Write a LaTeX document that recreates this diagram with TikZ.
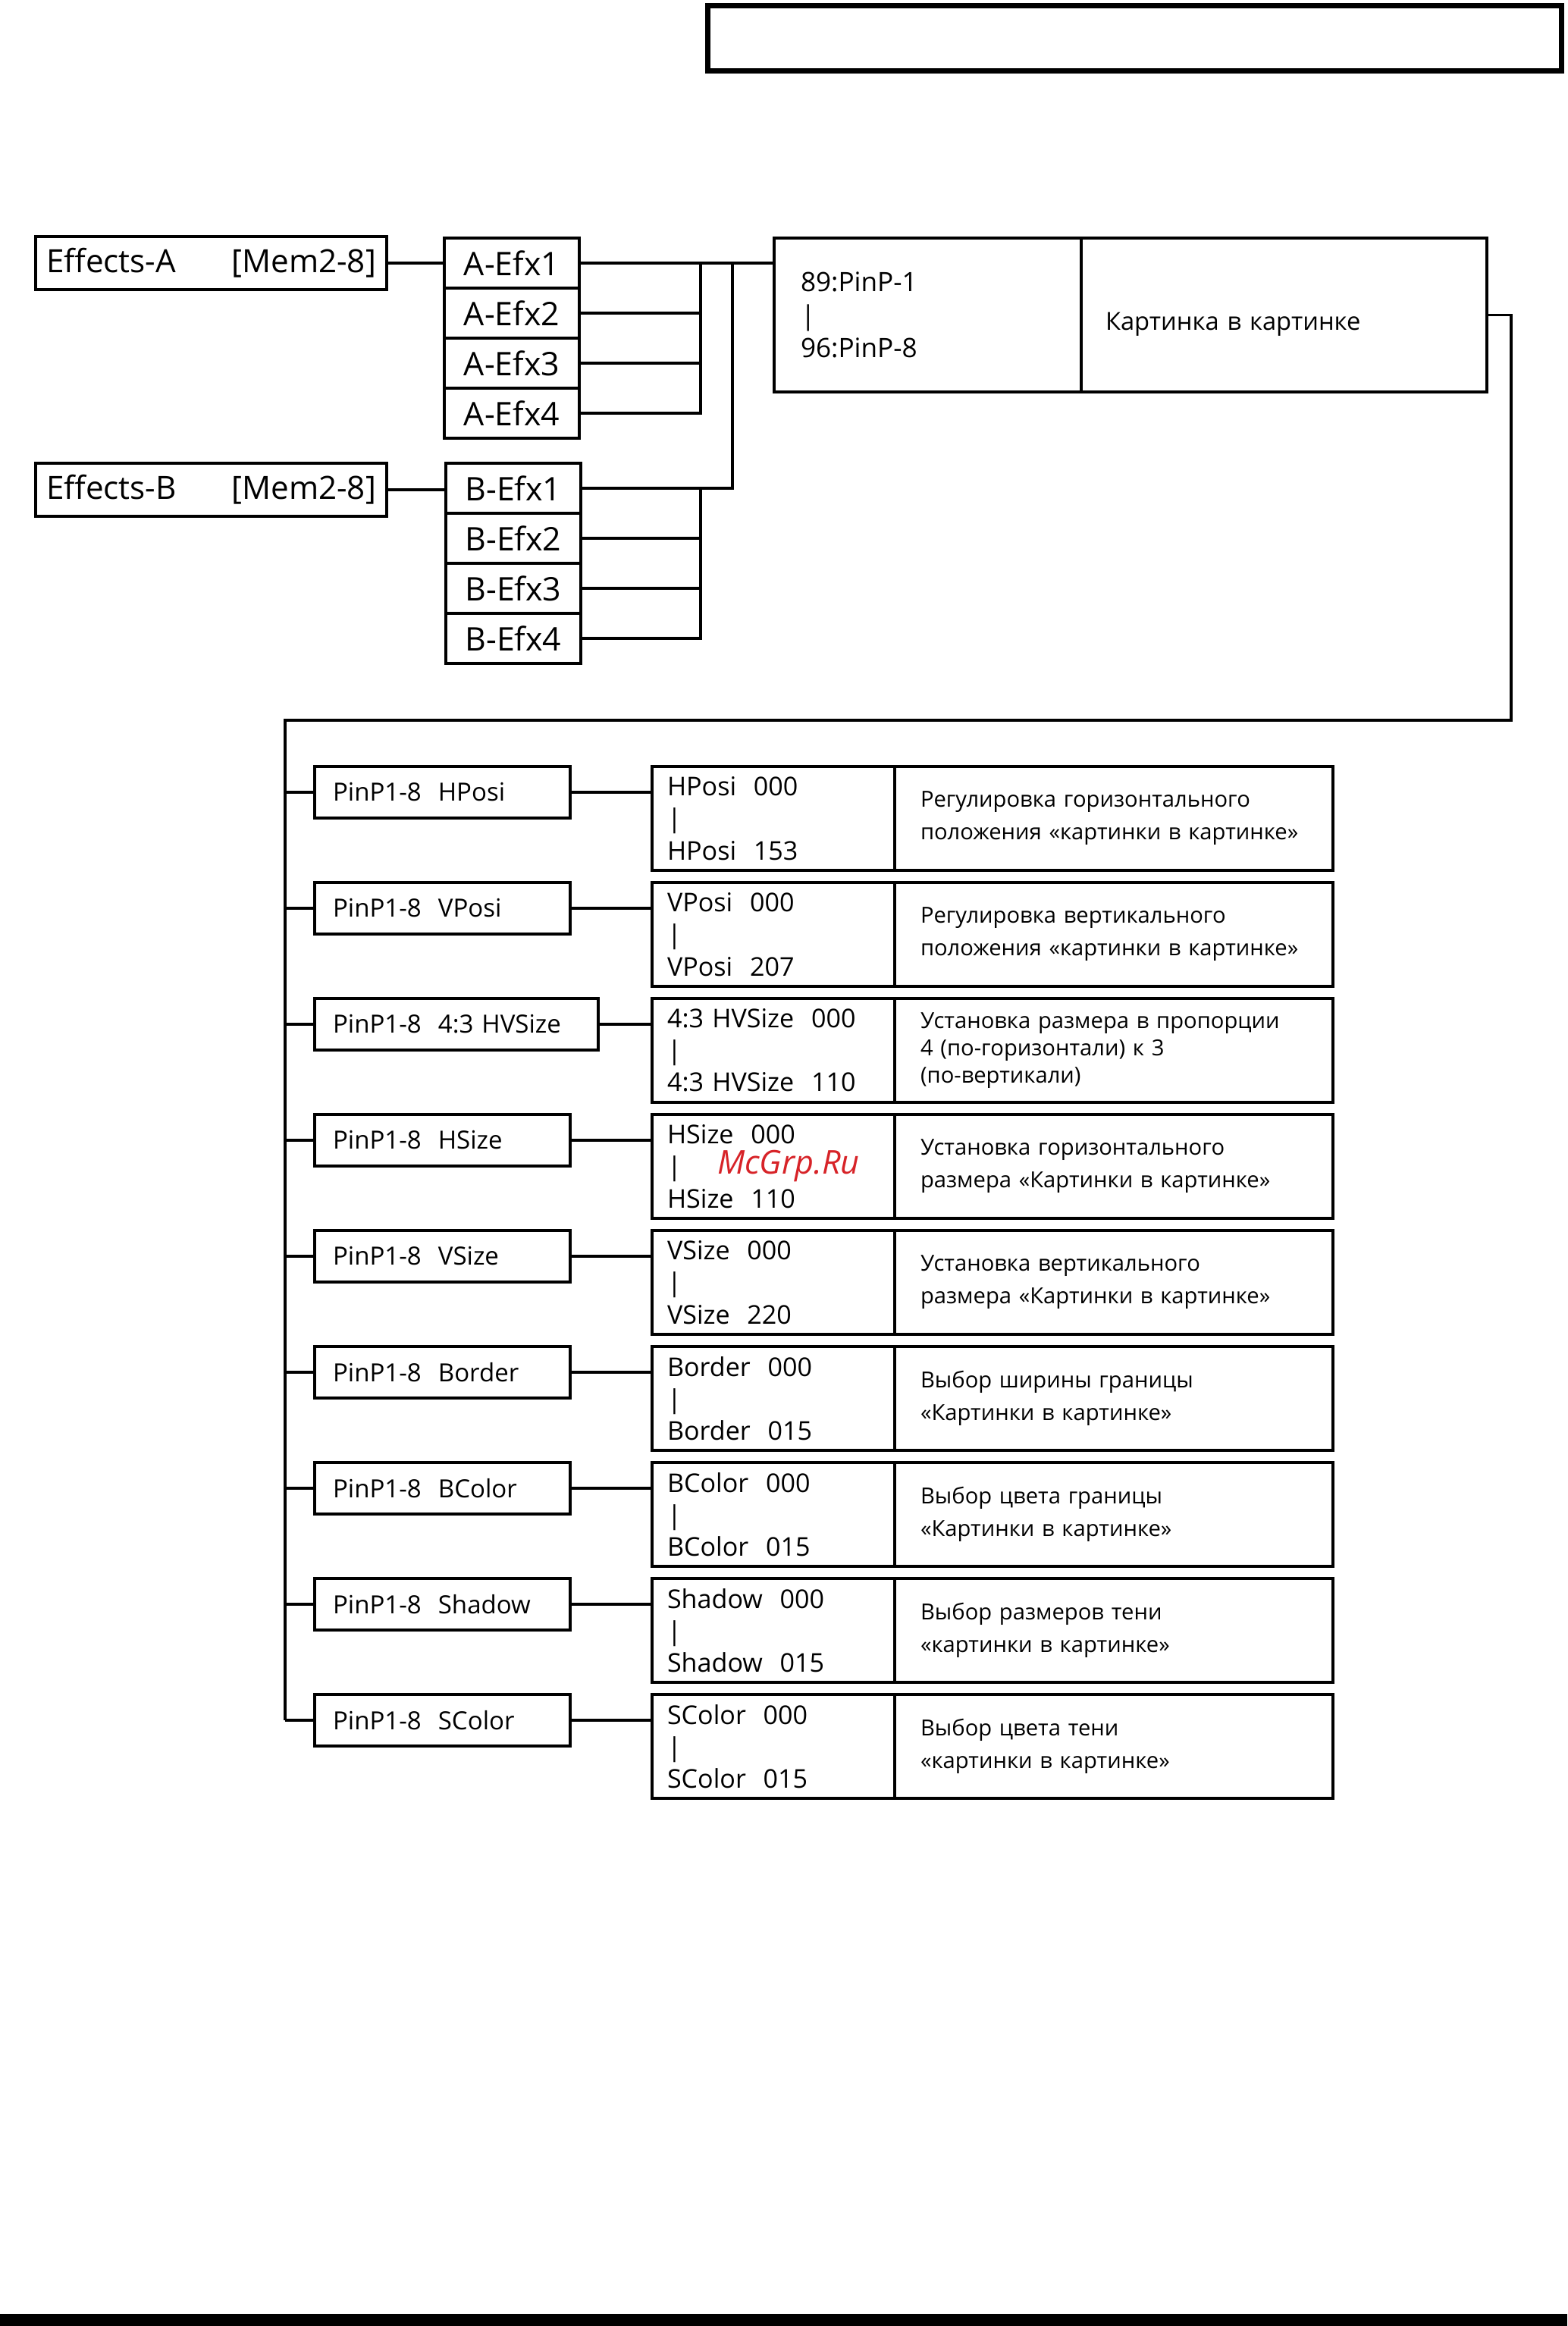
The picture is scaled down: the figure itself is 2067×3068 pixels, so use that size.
\documentclass[tikz,border=0pt]{standalone}
\usepackage{fontspec}
\setmainfont{Open Sans}
\usetikzlibrary{positioning}
\definecolor{wmred}{RGB}{215,35,40}

\begin{document}
\begin{tikzpicture}[
    x=0.1mm, y=-0.1mm,
    every node/.style={outer sep=0pt},
    link/.style={line width=1.1pt},
    headbox/.style={rectangle, draw, line width=2pt, minimum width=112.6mm, minimum height=8.6mm, inner sep=0pt},
    fxgroup/.style={rectangle, draw, line width=1.1pt, minimum width=46.3mm, minimum height=7mm, inner xsep=1.4mm, text width=43.5mm, align=left, font=\fontsize{12}{14}\selectfont},
    fxslot/.style={rectangle, draw, line width=1.1pt, minimum width=17.8mm, minimum height=6.6mm, inner sep=0pt, font=\fontsize{12.2}{14}\selectfont},
    pinval/.style={rectangle, draw, line width=1.1pt, minimum width=40.5mm, minimum height=20.3mm, inner xsep=3.5mm, text width=33.5mm, align=left, font=\fontsize{10}{12.4}\selectfont},
    pininfo/.style={rectangle, draw, line width=1.1pt, minimum width=53.5mm, minimum height=20.3mm, inner xsep=3.2mm, text width=47.1mm, align=left, font=\fontsize{9.3}{12}\selectfont},
    parambox/.style={rectangle, draw, line width=1.1pt, minimum width=33.7mm, minimum height=6.8mm, inner xsep=2.4mm, text width=28.9mm, align=left, font=\fontsize{9.4}{11}\selectfont},
    valbox/.style={rectangle, draw, line width=1.2pt, minimum width=32mm, minimum height=13.7mm, inner xsep=2mm, text width=28mm, align=left, font=\fontsize{9.7}{12}\selectfont},
    infobox/.style={rectangle, draw, line width=1.2pt, minimum width=57.8mm, minimum height=13.7mm, inner xsep=3.4mm, text width=51mm, align=left, font=\fontsize{8.3}{12.2}\selectfont}
]
\useasboundingbox (0,0) rectangle (2067,3068);

% Header frame and page bar
\node[headbox, anchor=north west] (title) at (933.5,7.5) {};
\fill (0,3052) rectangle (2067,3068);

% Effects groups
\node[fxgroup, anchor=north west] (fxA) at (47,312) {Effects-A\hfill[Mem2-8]};
\node[fxgroup, anchor=north west] (fxB) at (47,611) {Effects-B\hfill[Mem2-8]};

\node[fxslot, anchor=north west] (efxA1) at (586,314) {A-Efx1};
\node[fxslot, below=0pt of efxA1] (efxA2) {A-Efx2};
\node[fxslot, below=0pt of efxA2] (efxA3) {A-Efx3};
\node[fxslot, below=0pt of efxA3] (efxA4) {A-Efx4};

\node[fxslot, anchor=north west] (efxB1) at (588,611) {B-Efx1};
\node[fxslot, below=0pt of efxB1] (efxB2) {B-Efx2};
\node[fxslot, below=0pt of efxB2] (efxB3) {B-Efx3};
\node[fxslot, below=0pt of efxB3] (efxB4) {B-Efx4};

% PinP preset
\node[pinval, anchor=north west] (pinval) at (1021,314) {89:PinP-1\\|\\96:PinP-8};
\node[pininfo, right=0pt of pinval, text height=4.4mm, text depth=0.5mm] (pininfo) {Картинка в картинке};

% Bus points
\coordinate (busA) at (924,0);
\coordinate (busAB) at (966,0);
\coordinate (bus) at (376,950);
\coordinate (turn) at (1993,950);

% Parameters
\node[parambox, anchor=north west] (hposi) at (415,1011) {PinP1-8~~HPosi};
\node[valbox, anchor=north west] (hposiR) at (860,1011) {HPosi~~000\\|\\HPosi~~153};
\node[infobox, right=0pt of hposiR] (hposiI) {Регулировка горизонтального\\положения «картинки в картинке»};

\node[parambox, anchor=north west] (vposi) at (415,1164) {PinP1-8~~VPosi};
\node[valbox, anchor=north west] (vposiR) at (860,1164) {VPosi~~000\\|\\VPosi~~207};
\node[infobox, right=0pt of vposiR] (vposiI) {Регулировка вертикального\\положения «картинки в картинке»};

\node[parambox, anchor=north west, minimum width=37.4mm, text width=32.6mm] (hvsize) at (415,1317) {PinP1-8~~4:3 HVSize};
\node[valbox, anchor=north west] (hvsizeR) at (860,1317) {4:3 HVSize~~000\\|\\4:3 HVSize~~110};
\node[infobox, right=0pt of hvsizeR, font=\fontsize{8.3}{10.3}\selectfont] (hvsizeI) {Установка размера в пропорции\\4 (по-горизонтали) к 3\\(по-вертикали)};

\node[parambox, anchor=north west] (hsize) at (415,1470) {PinP1-8~~HSize};
\node[valbox, anchor=north west] (hsizeR) at (860,1470) {HSize~~000\\|\\HSize~~110};
\node[infobox, right=0pt of hsizeR] (hsizeI) {Установка горизонтального\\размера «Картинки в картинке»};

\node[parambox, anchor=north west] (vsize) at (415,1623) {PinP1-8~~VSize};
\node[valbox, anchor=north west] (vsizeR) at (860,1623) {VSize~~000\\|\\VSize~~220};
\node[infobox, right=0pt of vsizeR] (vsizeI) {Установка вертикального\\размера «Картинки в картинке»};

\node[parambox, anchor=north west] (border) at (415,1776) {PinP1-8~~Border};
\node[valbox, anchor=north west] (borderR) at (860,1776) {Border~~000\\|\\Border~~015};
\node[infobox, right=0pt of borderR] (borderI) {Выбор ширины границы\\«Картинки в картинке»};

\node[parambox, anchor=north west] (bcolor) at (415,1929) {PinP1-8~~BColor};
\node[valbox, anchor=north west] (bcolorR) at (860,1929) {BColor~~000\\|\\BColor~~015};
\node[infobox, right=0pt of bcolorR] (bcolorI) {Выбор цвета границы\\«Картинки в картинке»};

\node[parambox, anchor=north west] (shadow) at (415,2082) {PinP1-8~~Shadow};
\node[valbox, anchor=north west] (shadowR) at (860,2082) {Shadow~~000\\|\\Shadow~~015};
\node[infobox, right=0pt of shadowR] (shadowI) {Выбор размеров тени\\«картинки в картинке»};

\node[parambox, anchor=north west] (scolor) at (415,2235) {PinP1-8~~SColor};
\node[valbox, anchor=north west] (scolorR) at (860,2235) {SColor~~000\\|\\SColor~~015};
\node[infobox, right=0pt of scolorR] (scolorI) {Выбор цвета тени\\«картинки в картинке»};

% Watermark
\node[text=wmred, font=\fontsize{12.3}{14}\selectfont\itshape] (wmark) at (1040,1538) {McGrp.Ru};

% Effects-A connections
\draw[link] (fxA.east) -- (fxA.east -| efxA1.west);
\draw[link] (efxA1.east) -- (efxA1.east -| pinval.west);
\draw[link] (efxA2.east) -- (efxA2.east -| busA);
\draw[link] (efxA3.east) -- (efxA3.east -| busA);
\draw[link] (efxA4.east) -| (busA |- efxA1.east);

% Effects-B connections
\draw[link] (fxB.east) -- (fxB.east -| efxB1.west);
\draw[link] (efxB1.east) -| (busAB |- efxA1.east);
\draw[link] (efxB2.east) -- (efxB2.east -| busA);
\draw[link] (efxB3.east) -- (efxB3.east -| busA);
\draw[link] (efxB4.east) -| (busA |- efxB1.east);

% PinP to parameter list
\draw[link] (pininfo.east) -| (turn) -- (bus) -- (bus |- scolor.west);
\draw[link] (bus |- hposi.west) -- (hposi.west) (hposi.east) -- (hposi.east -| hposiR.west);
\draw[link] (bus |- vposi.west) -- (vposi.west) (vposi.east) -- (vposi.east -| vposiR.west);
\draw[link] (bus |- hvsize.west) -- (hvsize.west) (hvsize.east) -- (hvsize.east -| hvsizeR.west);
\draw[link] (bus |- hsize.west) -- (hsize.west) (hsize.east) -- (hsize.east -| hsizeR.west);
\draw[link] (bus |- vsize.west) -- (vsize.west) (vsize.east) -- (vsize.east -| vsizeR.west);
\draw[link] (bus |- border.west) -- (border.west) (border.east) -- (border.east -| borderR.west);
\draw[link] (bus |- bcolor.west) -- (bcolor.west) (bcolor.east) -- (bcolor.east -| bcolorR.west);
\draw[link] (bus |- shadow.west) -- (shadow.west) (shadow.east) -- (shadow.east -| shadowR.west);
\draw[link] (bus |- scolor.west) -- (scolor.west) (scolor.east) -- (scolor.east -| scolorR.west);

\end{tikzpicture}
\end{document}
